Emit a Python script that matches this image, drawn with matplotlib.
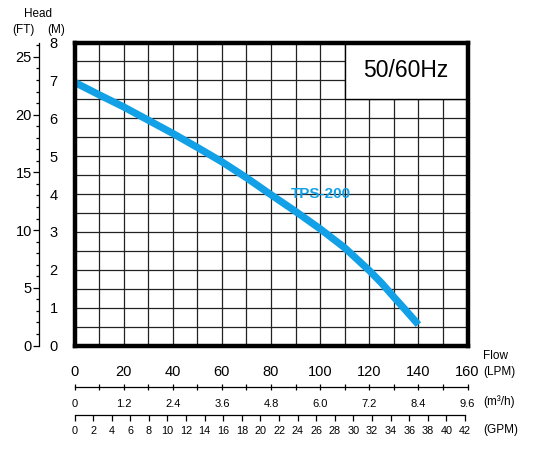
import numpy as np
import matplotlib
matplotlib.use("Agg")
import matplotlib.pyplot as plt
from matplotlib.patches import Rectangle

plt.rcParams["font.family"] = ["Liberation Sans", "DejaVu Sans"]

# curve: flow (LPM) vs head (M)
flow_lpm = [0, 10, 20, 30, 40, 50, 60, 70, 80, 90, 100, 110, 120, 125, 130, 135, 140]
head_m = [6.95, 6.62, 6.3, 5.95, 5.6, 5.23, 4.85, 4.43, 3.98, 3.54, 3.08, 2.58,
          1.98, 1.65, 1.28, 0.92, 0.55]

lpm_ticks = list(range(0, 161, 20))
m3h_ticks = [0, 1.2, 2.4, 3.6, 4.8, 6.0, 7.2, 8.4, 9.6]
m3h_labels = ["0", "1.2", "2.4", "3.6", "4.8", "6.0", "7.2", "8.4", "9.6"]
gpm_ticks = list(range(0, 43, 2))
ft_ticks = list(range(0, 26, 5))
m_ticks = list(range(0, 9))

model = "TPS-200"
freq = "50/60Hz"
blue = "#12A0E6"

W, H = 536, 451


def fx(px):
    return px / W


def fy(py):
    return 1 - py / H


fig = plt.figure(figsize=(W / 100, H / 100), dpi=100)

# main chart area
left, right, top, bottom = 74.5, 467.5, 42.5, 345.5
ax = fig.add_axes([fx(left), fy(bottom), (right - left) / W, (bottom - top) / H])
ax.set_xlim(0, 160)
ax.set_ylim(0, 8)
ax.set_xticks(lpm_ticks)
ax.set_xticks(np.arange(0, 161, 10), minor=True)
ax.set_yticks(m_ticks)
ax.set_yticks(np.arange(0, 8.01, 0.5), minor=True)
ax.grid(which="both", color="#222222", linewidth=0.9)
ax.set_axisbelow(True)
ax.tick_params(which="both", length=0)
ax.tick_params(axis="x", labelsize=10.5, pad=14)
ax.tick_params(axis="y", labelsize=10.5, pad=12)
for s in ax.spines.values():
    s.set_linewidth(3.2)
    s.set_zorder(5)

ax.plot(flow_lpm, head_m, color=blue, linewidth=5.2, solid_capstyle="butt",
        solid_joinstyle="round", zorder=3)
ax.text(100.5, 4.0, model, color=blue, fontsize=11, fontweight="bold",
        ha="center", va="center", zorder=4)

box = Rectangle((110, 6.5), 50, 1.5, facecolor="white", edgecolor="black",
                linewidth=1.0, zorder=2.5)
ax.add_patch(box)
ax.text(135, 7.25, freq, fontsize=16.5, ha="center", va="center", zorder=4)

# feet scale on the far left
axf = fig.add_axes([fx(39.3), fy(bottom), 0.001, (bottom - top) / H])
axf.set_facecolor("none")
axf.set_ylim(0, 8 * 3.28084)
axf.set_yticks(ft_ticks)
axf.set_yticks(np.arange(0, 27, 1), minor=True)
axf.tick_params(which="major", length=4.3, width=0.9, labelsize=10.5, pad=1)
axf.tick_params(which="minor", length=2.2, width=0.9)
axf.set_xticks([])
for k in ["top", "right", "bottom"]:
    axf.spines[k].set_visible(False)
axf.spines["left"].set_linewidth(0.9)

# m3/h scale
axm = fig.add_axes([fx(left), fy(387.3), (right - left) / W, 0.0001])
axm.set_facecolor("none")
axm.set_xlim(0, 9.6)
axm.set_xticks(m3h_ticks, m3h_labels)
axm.set_xticks(np.arange(0, 9.61, 0.6), minor=True)
axm.tick_params(which="both", direction="inout", length=5, width=0.9,
                labelsize=8, pad=6)
axm.set_yticks([])
for k in ["top", "right", "left"]:
    axm.spines[k].set_visible(False)
axm.spines["bottom"].set_linewidth(0.9)

# GPM scale
axg = fig.add_axes([fx(left), fy(415), (right - left) / W, 0.0001])
axg.set_facecolor("none")
axg.set_xlim(0, 160 / 3.78541)
axg.set_xticks(gpm_ticks)
axg.tick_params(which="both", direction="out", length=4.6, width=0.9,
                labelsize=7.8, pad=3)
axg.set_yticks([])
for k in ["top", "right", "left"]:
    axg.spines[k].set_visible(False)
axg.spines["bottom"].set_linewidth(0.9)
axg.spines["bottom"].set_bounds(0, 42)

# axis captions
fs = 8.5
fig.text(fx(38), fy(14), "Head", fontsize=fs, ha="center", va="center")
fig.text(fx(23), fy(30), "(FT)", fontsize=fs, ha="center", va="center")
fig.text(fx(56), fy(30), "(M)", fontsize=fs, ha="center", va="center")
fig.text(fx(483), fy(356), "Flow", fontsize=fs, ha="left", va="center")
fig.text(fx(483), fy(372), "(LPM)", fontsize=fs, ha="left", va="center")
fig.text(fx(483), fy(402), "(m³/h)", fontsize=fs, ha="left", va="center")
fig.text(fx(483), fy(430), "(GPM)", fontsize=fs, ha="left", va="center")

fig.savefig("out.png", dpi=100)
